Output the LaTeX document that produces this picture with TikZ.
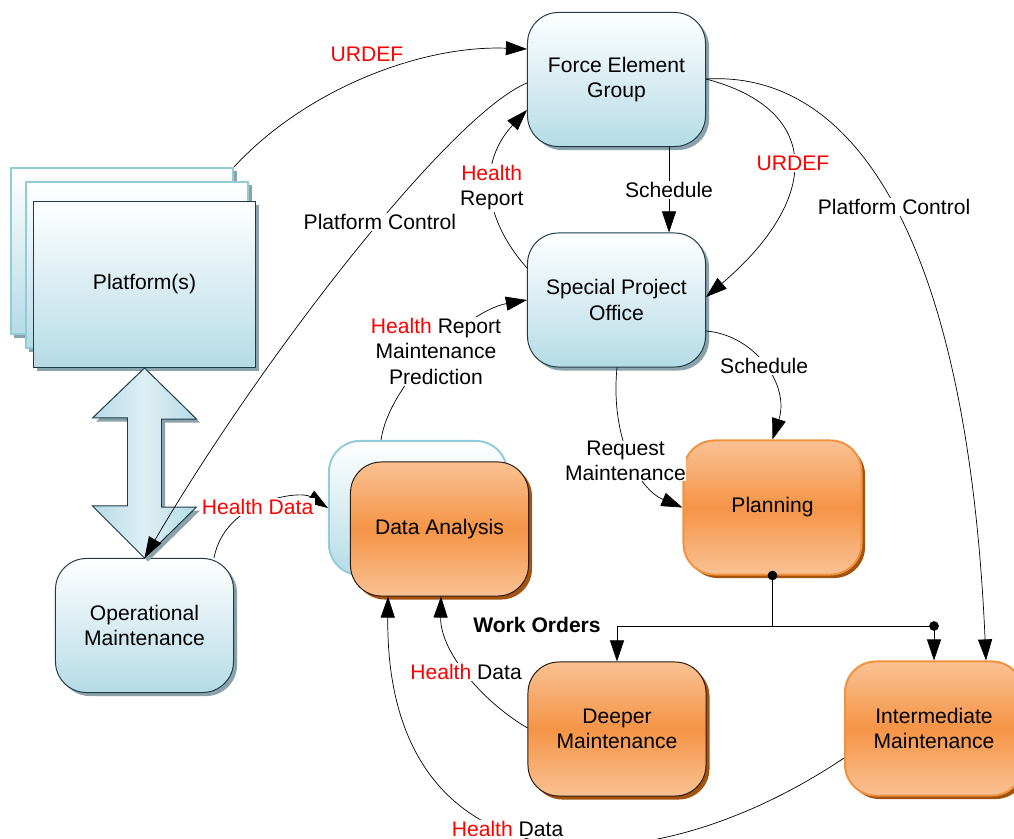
\documentclass[tikz,border=0pt]{standalone}
\usepackage{fontspec}
\setmainfont{Liberation Sans}
\usepackage{tikz}
\usetikzlibrary{arrows.meta}
\usetikzlibrary{shadows}

\definecolor{boxblue}{HTML}{B5DBE6}
\definecolor{blueline}{HTML}{1E3C48}
\definecolor{blueshade}{HTML}{8AA2AA}
\definecolor{paleblue}{HTML}{92CCDA}
\definecolor{orangetop}{HTML}{F9C193}
\definecolor{orangemid}{HTML}{F59446}
\definecolor{orangeline}{HTML}{F0923E}
\definecolor{darkline}{HTML}{2A1A0C}
\definecolor{orangeshade}{HTML}{A4520F}

\begin{document}
\begin{tikzpicture}[x=0.025cm,y=-0.025cm,
    procbox/.style={rectangle, rounded corners=22pt, minimum width=4.45cm, minimum height=3.35cm, inner sep=0pt, align=center, font=\fontsize{15}{18}\selectfont},
    bluebox/.style={procbox, draw=blueline, line width=0.7pt, top color=white, bottom color=boxblue, drop shadow={shadow xshift=2.5pt, shadow yshift=-2.5pt, fill=blueshade, opacity=1}},
    palebox/.style={procbox, draw=paleblue, line width=1.4pt, top color=white, bottom color=boxblue},
    orangebox/.style={procbox, draw=darkline, line width=0.7pt, top color=orangetop, bottom color=orangetop, middle color=orangemid, drop shadow={shadow xshift=2.5pt, shadow yshift=-2.5pt, fill=orangeshade, opacity=1}},
    orangelit/.style={orangebox, draw=orangeline, line width=1.4pt},
    platbox/.style={rectangle, minimum width=5.55cm, minimum height=4.15cm, inner sep=0pt, font=\fontsize{15}{18}\selectfont, draw=paleblue, line width=1.4pt, top color=white, bottom color=boxblue, drop shadow={shadow xshift=2.5pt, shadow yshift=-2.5pt, fill=blueshade, opacity=1}},
    link/.style={black, line width=0.5pt, -{Triangle[length=15pt,width=10pt]}},
    linklabel/.style={fill=white, inner sep=1pt, align=center, font=\fontsize{15}{18}\selectfont}]
     \useasboundingbox (0,0) rectangle (1014,839);
     \clip (0,0) rectangle (1014,839);
     \node[platbox] (platc) at (122,251) {};
     \node[platbox] (platb) at (137,265) {};
     \node[platbox, draw=blueline, line width=0.7pt] (plat) at (144.5,284.5) {Platform(s)};
     \node[bluebox] (feg) at (616.5,79.5) {Force Element\\Group};
     \node[bluebox] (spo) at (616.5,300) {Special Project\\Office};
     \node[bluebox] (om) at (144.5,625.5) {Operational\\Maintenance};
     \node[palebox] (dab) at (418,508) {};
     \node[orangebox] (daf) at (439.5,529) {Data Analysis};
     \node[orangelit] (plan) at (772.5,507.5) {Planning};
     \node[orangebox] (deep) at (617,729) {Deeper\\Maintenance};
     \node[orangelit] (intm) at (934,728.5) {Intermediate\\Maintenance};
     \draw[draw=blueline, line width=0.7pt, left color=boxblue, right color=boxblue, middle color=white!55!boxblue, drop shadow={shadow xshift=2.5pt, shadow yshift=-2.5pt, fill=blueshade, opacity=1}] (plat.south) -- ++(52,51) -- ++(-35,0) -- ++(0,88) -- ++(35,0) -- (om.north) -- ++(-52,-52) -- ++(35,0) -- ++(0,-88) -- ++(-35,0) -- cycle;
     \draw[link] (platc.north east) .. controls (305,90) and (420,45) .. (feg.west |- 0,49) node[pos=0.5, linklabel, above=10pt] {\textcolor{red}{URDEF}};
     \draw[link] (feg.west |- 0,83) .. controls (450,115) and (260,360) .. (om.north) node[pos=0.43, linklabel] {Platform Control};
     \draw[link] (spo.west |- 0,268) .. controls (480,215) and (480,160) .. (feg.west |- 0,110) node[pos=0.5, linklabel] {\textcolor{red}{Health}\\Report};
     \draw[link] (feg.south -| 669,0) -- (spo.north -| 669,0) node[midway, linklabel] {Schedule};
     \draw[link] (feg.east |- 0,79) .. controls (824,110) and (820,200) .. (spo.east |- 0,297) node[pos=0.5, linklabel] {\textcolor{red}{URDEF}};
     \draw[link] (feg.east |- 0,79) .. controls (860,70) and (968,250) .. (intm.north -| 986,0) node[pos=0.49, linklabel] {Platform Control};
     \draw[link] (dab.north -| 381,0) .. controls (390,380) and (470,310) .. (spo.west |- 0,300) node[pos=0.5, linklabel] {\textcolor{red}{Health} Report\\Maintenance\\Prediction};
     \draw[link] (om.north -| 214,0) .. controls (225,500) and (300,490) .. (dab.west |- 0,508) node[pos=0.45, linklabel] {\textcolor{red}{Health Data}};
     \draw[link] (spo.east |- 0,331) .. controls (755,335) and (790,385) .. (plan.north) node[pos=0.5, linklabel] {Schedule};
     \draw[link] (spo.south -| 617,0) .. controls (610,440) and (640,490) .. (plan.west) node[pos=0.5, linklabel, inner sep=0pt, xshift=-4pt, yshift=-2pt] {Request\\Maintenance};
     \draw[line width=0.5pt] (plan.south) -- (plan.south |- 0,626) coordinate (wo);
     \draw[link] (wo) -| (deep.north);
     \draw[line width=0.5pt] (wo) -- (intm.north |- wo) coordinate (woi);
     \draw[link] (woi) -- (intm.north);
     \filldraw[black] (plan.south) circle (3.2pt);
     \filldraw[black] (woi) circle (3.2pt);
     \node[font=\fontsize{15}{18}\selectfont\bfseries] (wolabel) at (537,625) {Work Orders};
     \draw[link] (deep.west |- 0,728) .. controls (480,700) and (440,650) .. (daf.south -| 441,0) node[pos=0.5, linklabel] {\textcolor{red}{Health} Data};
     \draw[link] (intm.west |- 0,758) .. controls (640,895) and (385,890) .. (daf.south -| 388,0) node[pos=0.56, linklabel] {\textcolor{red}{Health} Data};
\end{tikzpicture}
\end{document}
